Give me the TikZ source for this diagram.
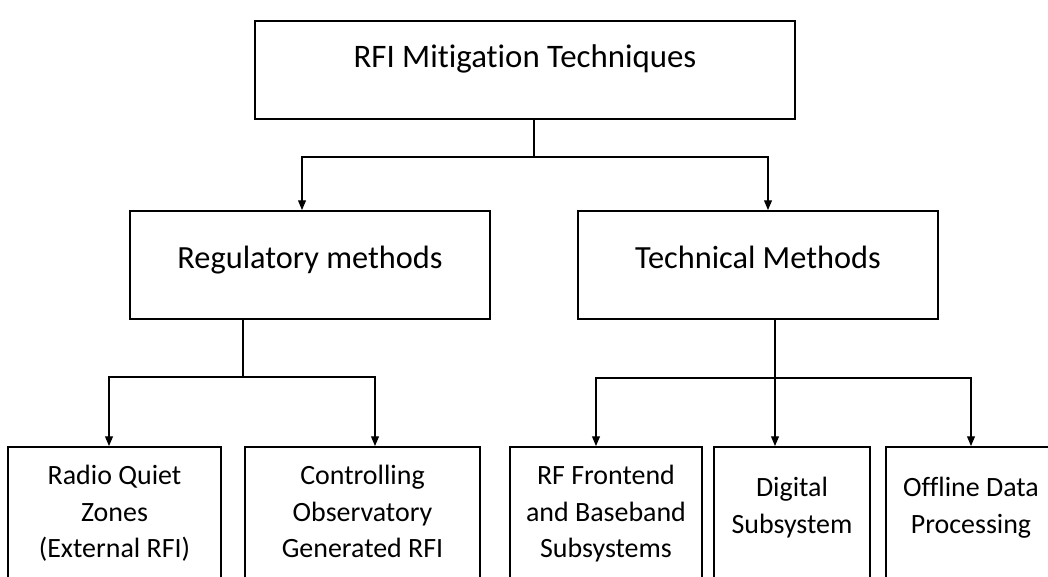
\documentclass[tikz,border=0pt]{standalone}
\usepackage{fontspec}
\setmainfont{Carlito}[Ligatures=NoCommon]
\usetikzlibrary{arrows.meta, positioning}

\begin{document}
\begin{tikzpicture}[
    x=0.02cm, y=-0.02cm,
    rootbox/.style={rectangle, draw=black, line width=1.2pt, inner sep=0pt, anchor=north, minimum width=10.8cm, text height=0.92cm, text depth=1.04cm, font=\fontsize{18.7}{22}\selectfont},
    methodbox/.style={rectangle, draw=black, line width=1.2pt, inner sep=0pt, anchor=north, minimum width=7.2cm, text height=1.14cm, text depth=1.02cm, font=\fontsize{18.4}{22}\selectfont},
    leaf/.style={rectangle, draw=black, line width=1.2pt, inner sep=0pt, anchor=north, align=flush center, text height=0.75cm, text depth=3cm, font=\fontsize{15.9}{20.8}\selectfont},
    leaftwo/.style={leaf, text height=0.99cm},
    line/.style={line width=0.6pt},
    arrow/.style={line width=0.6pt, -{Triangle[width=4.5pt, length=5.5pt]}}
    ]

    % Page frame
    \useasboundingbox (0,0) rectangle (1048,576);
    \clip (0,0) rectangle (1048,576);

    % Top level
    \node (root) [rootbox] at (525,20) {RFI Mitigation Techniques};

    % Second level
    \node (reg) [methodbox] at (310,210) {Regulatory methods};
    \node (tech) [methodbox] at (758,210) {Technical Methods};

    % Third level
    \node (rqz) [leaf, text width=4.26cm] at (114.5,446) {Radio Quiet\\Zones\\(External RFI)};
    \node (cog) [leaf, text width=4.7cm] at (362.5,446) {Controlling\\Observatory\\Generated RFI};
    \node (rfb) [leaf, text width=3.84cm] at (606,446) {RF Frontend\\and Baseband\\Subsystems};
    \node (dig) [leaftwo, text width=3.12cm] at (792,446) {Digital\\Subsystem};
    \node (odp) [leaftwo, text width=3.4cm] at (971,446) {Offline Data\\Processing};

    % Branch points
    \coordinate (j1) at (534,157);
    \coordinate (j2) at (243,377);
    \coordinate (j3) at (775,378);

    % Arrows - top level
    \draw [line] (root.south -| j1) -- (j1);
    \draw [arrow] (j1) -| ([xshift=-0.16cm]reg.north);
    \draw [arrow] (j1) -| ([xshift=0.2cm]tech.north);

    % Arrows - regulatory
    \draw [line] (reg.south -| j2) -- (j2);
    \draw [arrow] (j2) -| ([xshift=-0.11cm]rqz.north);
    \draw [arrow] (j2) -| ([xshift=0.25cm]cog.north);

    % Arrows - technical
    \draw [arrow] (tech.south -| j3) -- (dig.north -| j3);
    \draw [arrow] (j3) -| ([xshift=-0.2cm]rfb.north);
    \draw [arrow] (j3) -| (odp.north);

\end{tikzpicture}
\end{document}
